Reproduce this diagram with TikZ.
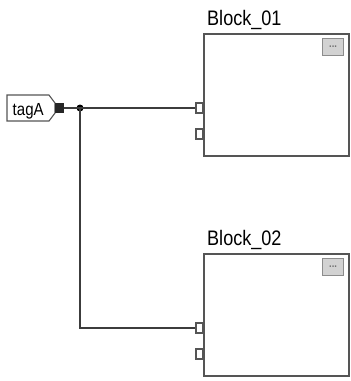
\documentclass[tikz,border=0pt]{standalone}
\usepackage{fontspec}
\setmainfont{Liberation Sans}[FakeStretch=0.86]
\definecolor{wire}{HTML}{3C3C3C}
\definecolor{boxline}{HTML}{555555}
\definecolor{btnfill}{HTML}{D2D2D2}
\definecolor{btnline}{HTML}{8C8C8C}
\begin{document}
\begin{tikzpicture}[x=1pt,y=-1pt,
  blockbox/.style={draw=boxline, line width=1.5pt, fill=white, minimum width=145pt, minimum height=122pt, anchor=north west, inner sep=0pt},
  blocktitle/.style={anchor=base west, inner sep=0pt, font=\fontsize{21}{24}\selectfont},
  port/.style={draw=boxline, line width=1.1pt, fill=white, minimum width=7pt, minimum height=10pt, anchor=east, inner sep=0pt},
  btn/.style={draw=btnline, line width=1.2pt, fill=btnfill, minimum width=21pt, minimum height=17pt, anchor=north west, inner sep=0pt, font=\fontsize{11}{11}\selectfont\bfseries, text=black!55},
  wireline/.style={draw=wire, line width=1.2pt},
  tagsq/.style={fill=black!85, minimum width=9pt, minimum height=10pt, inner sep=0pt},
  jdot/.style={circle, fill=black, minimum size=7pt, inner sep=0pt}
]
\useasboundingbox (0,0) rectangle (351,381);

% Block 01
\node[blocktitle] (t1) at (207,25) {Block\_01};
\node[blockbox] (b1) at (203,33) {};
\node[btn] (btn1) at (322,38) {...};
\node[port] (p11) at (203.5,108) {};
\node[port] (p12) at (203.5,134) {};

% Block 02
\node[blocktitle] (t2) at (207,245) {Block\_02};
\node[blockbox] (b2) at (203,253) {};
\node[btn] (btn2) at (322,258) {...};
\node[port] (p21) at (203.5,328) {};
\node[port] (p22) at (203.5,354) {};

% tag
\draw[draw=boxline, line width=1.1pt, fill=white]
  (7,95) -- (49,95) -- (55,103) -- (55,113) -- (49,121) -- (7,121) -- cycle;
\node[anchor=base west, inner sep=0pt, font=\fontsize{17.5}{20}\selectfont] (tag) at (12.5,115.5) {tagA};
\node[tagsq] (sq) at (59.5,108) {};

% wires
\node[jdot] (jn) at (80,108) {};
\draw[wireline] (sq.east) -- (p11.west);
\draw[wireline] (jn.center) |- (p21.west);
\end{tikzpicture}
\end{document}
